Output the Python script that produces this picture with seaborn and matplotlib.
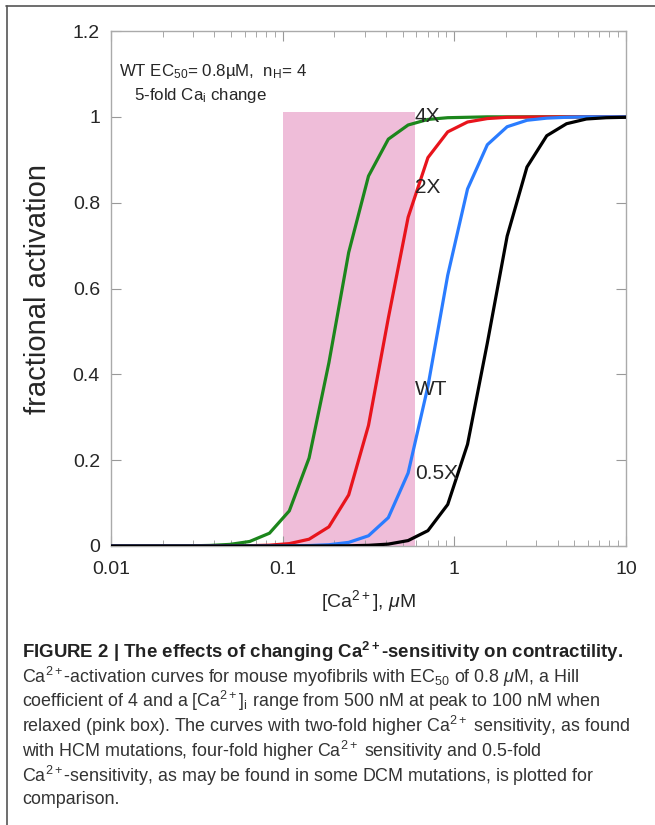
import numpy as np
import pandas as pd
import matplotlib
matplotlib.use("Agg")
import matplotlib.pyplot as plt
import seaborn as sns

# ---- data ----
ca_uM = [0.0100, 0.01304, 0.01701, 0.02219, 0.02894, 0.03775, 0.04924, 0.06423,
         0.08377, 0.1093, 0.1425, 0.1859, 0.2424, 0.3162, 0.4125, 0.5380,
         0.7017, 0.9152, 1.1938, 1.557, 2.031, 2.649, 3.455, 4.507, 5.878,
         7.667, 10.0]
act_4x = [0.0, 0.0, 0.0001, 0.0002, 0.0004, 0.0013, 0.0037, 0.0105, 0.0298,
          0.0818, 0.205, 0.427, 0.684, 0.862, 0.948, 0.981, 0.994, 0.998,
          0.999, 1.0, 1.0, 1.0, 1.0, 1.0, 1.0, 1.0, 1.0]
act_2x = [0.0, 0.0, 0.0, 0.0, 0.0, 0.0001, 0.0002, 0.0007, 0.0019, 0.0055,
          0.0158, 0.0446, 0.119, 0.281, 0.531, 0.766, 0.905, 0.965, 0.988,
          0.996, 0.999, 0.9995, 1.0, 1.0, 1.0, 1.0, 1.0]
act_wt = [0.0, 0.0, 0.0, 0.0, 0.0, 0.0, 0.0, 0.0, 0.0001, 0.0004, 0.001,
          0.0029, 0.0084, 0.0238, 0.066, 0.170, 0.372, 0.631, 0.832, 0.935,
          0.977, 0.992, 0.997, 0.999, 1.0, 1.0, 1.0]
act_05x = [0.0, 0.0, 0.0, 0.0, 0.0, 0.0, 0.0, 0.0, 0.0, 0.0, 0.0001, 0.0002,
           0.0005, 0.0015, 0.0044, 0.0126, 0.0357, 0.0967, 0.237, 0.473,
           0.722, 0.883, 0.956, 0.984, 0.995, 0.998, 0.999]
series_names = ["4X", "2X", "WT", "0.5X"]
series_colors = ["#1c861c", "#e8141c", "#2a7cff", "#000000"]
label_pos = {"4X": (0.59, 1.0), "2X": (0.59, 0.835), "WT": (0.59, 0.365), "0.5X": (0.59, 0.17)}
box_ca = [0.1, 0.59]
box_top = 1.012
ytick_vals = [0, 0.2, 0.4, 0.6, 0.8, 1, 1.2]
ytick_labels = ["0", "0.2", "0.4", "0.6", "0.8", "1", "1.2"]
xtick_vals = [0.01, 0.1, 1, 10]
xtick_labels = ["0.01", "0.1", "1", "10"]

caption_lines = [
    r"FIGURE 2 | The effects of changing Ca$^{\mathbf{2+}}$-sensitivity on contractility.",
    r"Ca$^{2+}$-activation curves for mouse myofibrils with EC$_{50}$ of 0.8 $\mu$M, a Hill",
    r"coefficient of 4 and a [Ca$^{2+}$]$_{\rm i}$ range from 500 nM at peak to 100 nM when",
    r"relaxed (pink box). The curves with two-fold higher Ca$^{2+}$ sensitivity, as found",
    r"with HCM mutations, four-fold higher Ca$^{2+}$ sensitivity and 0.5-fold",
    r"Ca$^{2+}$-sensitivity, as may be found in some DCM mutations, is plotted for",
    r"comparison.",
]

# ---- frame ----
df = pd.DataFrame({
    "ca": ca_uM * 4,
    "act": act_4x + act_2x + act_wt + act_05x,
    "curve": sum([[n] * len(ca_uM) for n in series_names], []),
})

sns.set_style("ticks")
plt.rcParams["font.family"] = ["Liberation Sans", "DejaVu Sans"]
plt.rcParams["mathtext.fontset"] = "custom"
plt.rcParams["mathtext.rm"] = "Liberation Sans"
plt.rcParams["mathtext.it"] = "Liberation Sans:italic"
plt.rcParams["mathtext.bf"] = "Liberation Sans:bold"

fig = plt.figure(figsize=(6.55, 8.25), dpi=100)
ax = fig.add_axes([0.1695, 0.3382, 0.9557 - 0.1695, 0.9624 - 0.3382])

ax.fill_between(box_ca, 0, box_top, color="#efbdd9", lw=0, zorder=0)

sns.lineplot(data=df, x="ca", y="act", hue="curve", hue_order=series_names,
             palette=series_colors, linewidth=2.3, legend=False, ax=ax,
             estimator=None, sort=True, zorder=3)

ax.set_xscale("log")
ax.set_xlim(0.01, 10)
ax.set_ylim(0, 1.2)
ax.set_xticks(xtick_vals)
ax.set_xticklabels(xtick_labels)
ax.set_yticks(ytick_vals)
ax.set_yticklabels(ytick_labels)
ax.tick_params(which="both", direction="in", top=True, right=True,
               color="#999999", labelsize=14)
ax.tick_params(axis="x", pad=11)
ax.tick_params(axis="y", pad=8)
ax.tick_params(which="major", length=7)
ax.tick_params(which="minor", length=4)
for s in ax.spines.values():
    s.set_color("#aaaaaa")
    s.set_linewidth(1.0)

ax.set_xlabel(r"[Ca$^{2+}$], $\mu$M", fontsize=14)
ax.set_ylabel("fractional activation", fontsize=21)
ax.xaxis.set_label_coords(0.5, -0.082)
ax.yaxis.set_label_coords(-0.115, 0.5)

for n in series_names:
    x, y = label_pos[n]
    ax.text(x, y, n, fontsize=15, ha="left", va="center", zorder=5)

ax.text(0.0111, 1.105, r"WT EC$_{50}$= 0.8µM,  n$_{\rm H}$= 4", fontsize=12.2,
        ha="left", va="center")
ax.text(0.0136, 1.05, r"5-fold Ca$_{\rm i}$ change", fontsize=12.2,
        ha="left", va="center")

# figure border
fig.add_artist(plt.Line2D([6 / 655, 1.0], [1 - 6 / 825, 1 - 6 / 825],
                          transform=fig.transFigure, color="#555555", lw=1.2))
fig.add_artist(plt.Line2D([7 / 655, 7 / 655], [0, 1 - 6 / 825],
                          transform=fig.transFigure, color="#555555", lw=1.2))

# caption
ys = [652, 677, 701, 726, 751, 776, 800]
for i, (line, yy) in enumerate(zip(caption_lines, ys)):
    fig.text(22 / 655, 1 - yy / 825, line, fontsize=13.4 if i == 0 else 12.9,
             fontweight="bold" if i == 0 else "normal", color="#222222" if i == 0 else "#333333",
             ha="left", va="center")

fig.savefig("out.png", dpi=100)
